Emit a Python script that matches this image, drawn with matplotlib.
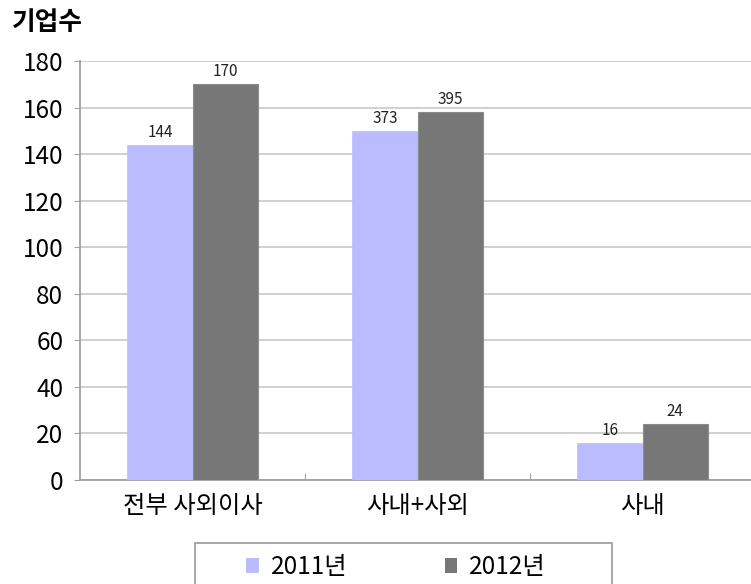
import matplotlib
matplotlib.use('Agg')
import matplotlib.pyplot as plt
from matplotlib.patches import Rectangle, Patch
import numpy as np

plt.rcParams['font.family'] = ['Noto Sans CJK KR', 'DejaVu Sans']

categories = ['전부 사외이사', '사내+사외', '사내']
years = ['2011년', '2012년']
# bar heights as drawn in the original chart
heights_2011 = [144, 150, 16]
heights_2012 = [170, 158, 24]
# value labels printed above the bars
labels_2011 = ['144', '373', '16']
labels_2012 = ['170', '395', '24']
yticks = [0, 20, 40, 60, 80, 100, 120, 140, 160, 180]

c2011 = '#bbbbff'
c2012 = '#777777'

fig = plt.figure(figsize=(7.51, 5.84), dpi=100)
ax = fig.add_axes([80 / 751, 1 - 480 / 584, 675 / 751, 419 / 584])

x = np.arange(len(categories))
w = 0.289
b1 = ax.bar(x - w / 2, heights_2011, w, color=c2011, edgecolor=c2011, linewidth=0.5, zorder=3)
b2 = ax.bar(x + w / 2, heights_2012, w, color=c2012, edgecolor='#8c8c8c', linewidth=0.8, zorder=3)

for bars, labs in ((b1, labels_2011), (b2, labels_2012)):
    for rect, lab in zip(bars, labs):
        ax.annotate(lab, (rect.get_x() + rect.get_width() / 2, rect.get_height()),
                    xytext=(0, 3), textcoords='offset points',
                    ha='center', va='bottom', fontsize=11, color='#222222')

ax.set_xlim(-0.5, 2.5)
ax.set_ylim(0, 180)
ax.set_yticks(yticks)
ax.set_yticklabels([str(v) for v in yticks], fontsize=17.5)
ax.yaxis.grid(True, color='#c8c8c8', linewidth=1.2, zorder=0)
ax.tick_params(axis='y', direction='out', length=4, color='#a0a0a0', pad=8)

# category labels centered, ticks at group boundaries
ax.set_xticks([0.5, 1.5])
ax.set_xticklabels(['', ''])
ax.tick_params(axis='x', direction='in', length=5, color='#a0a0a0')
for xi, cat in zip(x, categories):
    ax.text(xi, -11, cat, ha='center', va='center', fontsize=17.5, clip_on=False)

for s in ('top', 'right'):
    ax.spines[s].set_visible(False)
for s in ('left', 'bottom'):
    ax.spines[s].set_color('#a0a0a0')
    ax.spines[s].set_linewidth(1.3)

fig.text(12 / 751, 1 - 23 / 584, '기업수', fontsize=18.5, fontweight='bold', va='center', ha='left')

# legend with a plain box, cut off by the bottom edge as in the original
fig.patches.append(Rectangle((195 / 751, -0.05), 417 / 751, 0.05 + 41 / 584,
                             transform=fig.transFigure, fill=False,
                             edgecolor='#a0a0a0', linewidth=1.3))
handles = [Patch(facecolor=c2011, edgecolor='none'), Patch(facecolor=c2012, edgecolor='none')]
fig.legend(handles, years, loc='center', bbox_to_anchor=(396 / 751, 1 - 567 / 584),
           ncol=2, frameon=False, fontsize=17.5, handlelength=0.5, handleheight=0.6,
           handletextpad=0.5, columnspacing=4.0, borderpad=0)

fig.savefig('out.png', dpi=100)
